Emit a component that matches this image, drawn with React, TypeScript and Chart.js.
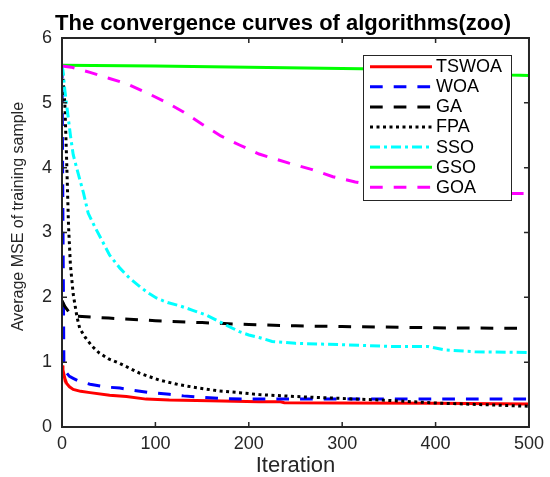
import React, { useEffect, useRef } from "react";
import { Chart, registerables } from "chart.js";

Chart.register(...registerables);

// ---- data ----
const seriesNames = ["TSWOA", "WOA", "GA", "FPA", "SSO", "GSO", "GOA"];
const seriesColors = ["#ff0000", "#0000ff", "#000000", "#000000", "#00ffff", "#00ff00", "#ff00ff"];

const xTicks = [0, 100, 200, 300, 400, 500];
const yTicks = [0, 1, 2, 3, 4, 5, 6];

const tswoaIter = [0, 1, 3, 5, 8, 12, 20, 30, 51, 69, 90, 115, 158, 211, 234, 238, 300, 400, 500];
const tswoaVal = [0.95, 0.88, 0.75, 0.67, 0.62, 0.58, 0.55, 0.53, 0.49, 0.47, 0.43, 0.415, 0.405, 0.39, 0.39, 0.375, 0.37, 0.365, 0.355];

const woaIter = [0, 1, 2, 4, 8, 12, 19, 30, 45, 62, 75, 94, 115, 130, 147, 170, 197, 250, 300, 400, 500];
const woaVal = [5.57, 3.2, 1.0, 0.85, 0.78, 0.75, 0.7, 0.66, 0.62, 0.6, 0.57, 0.53, 0.505, 0.48, 0.46, 0.44, 0.43, 0.43, 0.43, 0.43, 0.43];

const gaIter = [0, 3, 8, 15, 50, 100, 150, 200, 250, 300, 400, 500];
const gaVal = [1.95, 1.86, 1.76, 1.71, 1.68, 1.64, 1.61, 1.58, 1.56, 1.55, 1.53, 1.52];

const fpaIter = [0, 1, 3, 5, 7, 9, 12, 16, 19, 25, 32, 40, 50, 62, 83, 104, 126, 147, 168, 190, 211, 250, 300, 350, 400, 450, 500];
const fpaVal = [5.57, 5.4, 5.0, 4.1, 3.1, 2.5, 2.05, 1.7, 1.52, 1.38, 1.25, 1.14, 1.05, 0.98, 0.83, 0.725, 0.65, 0.6, 0.556, 0.53, 0.5, 0.47, 0.44, 0.41, 0.37, 0.345, 0.32];

const ssoIter = [0, 1, 3, 6, 9, 12, 16, 23, 28, 35, 42, 51, 62, 72, 83, 92, 101, 113, 126, 140, 154, 172, 190, 200, 211, 225, 250, 300, 357, 392, 410, 442, 500];
const ssoVal = [5.57, 5.5, 5.2, 4.85, 4.5, 4.2, 3.98, 3.61, 3.3, 3.09, 2.9, 2.65, 2.45, 2.3, 2.17, 2.07, 1.99, 1.92, 1.87, 1.8, 1.73, 1.6, 1.47, 1.42, 1.38, 1.32, 1.29, 1.27, 1.24, 1.24, 1.19, 1.16, 1.15];

const gsoIter = [0, 100, 200, 300, 400, 450, 480, 500];
const gsoVal = [5.58, 5.57, 5.55, 5.53, 5.51, 5.48, 5.43, 5.42];

const goaIter = [0, 10, 30, 50, 70, 90, 110, 130, 150, 170, 190, 211, 243, 268, 290, 314, 350, 400, 450, 500];
const goaVal = [5.57, 5.55, 5.47, 5.38, 5.29, 5.16, 5.02, 4.86, 4.67, 4.49, 4.35, 4.21, 4.07, 3.97, 3.86, 3.78, 3.68, 3.62, 3.6, 3.6];

const chartTitle = "The convergence curves of algorithms(zoo)";
const xTitle = "Iteration";
const yTitle = "Average MSE of training sample";

// ---- styles ----
const FONT = '"Liberation Sans", Arial, Helvetica, sans-serif';
const dashes: number[][] = [[], [12.7, 11], [12.7, 11], [3, 3.5], [10, 4, 3, 4], [], [12.7, 11]];

const seriesIters = [tswoaIter, woaIter, gaIter, fpaIter, ssoIter, gsoIter, goaIter];
const seriesVals = [tswoaVal, woaVal, gaVal, fpaVal, ssoVal, gsoVal, goaVal];

const framePlugin = {
  id: "frame",
  afterDatasetsDraw(chart: any) {
    const { ctx, chartArea } = chart;
    const { left, right, top, bottom } = chartArea;
    const xs = chart.scales.x;
    const ys = chart.scales.y;
    ctx.save();
    ctx.strokeStyle = "#262626";
    ctx.lineWidth = 2;
    ctx.setLineDash([]);
    ctx.strokeRect(left, top, right - left, bottom - top);
    ctx.beginPath();
    ctx.lineWidth = 1.5;
    const tl = 5;
    xTicks.forEach((v) => {
      const px = xs.getPixelForValue(v);
      ctx.moveTo(px, bottom);
      ctx.lineTo(px, bottom - tl);
      ctx.moveTo(px, top);
      ctx.lineTo(px, top + tl);
    });
    yTicks.forEach((v) => {
      const py = ys.getPixelForValue(v);
      ctx.moveTo(left, py);
      ctx.lineTo(left + tl, py);
      ctx.moveTo(right, py);
      ctx.lineTo(right - tl, py);
    });
    ctx.stroke();
    ctx.restore();
  },
  afterDraw(chart: any) {
    const { ctx } = chart;
    ctx.save();
    // title
    ctx.fillStyle = "#000000";
    ctx.font = `bold 22px ${FONT}`;
    ctx.textAlign = "center";
    ctx.textBaseline = "alphabetic";
    ctx.fillText(chartTitle, 283, 30);
    // y title
    ctx.save();
    ctx.translate(18.5, 216.5);
    ctx.rotate(-Math.PI / 2);
    ctx.font = `16px ${FONT}`;
    ctx.fillStyle = "#262626";
    ctx.textAlign = "center";
    ctx.textBaseline = "middle";
    ctx.fillText(yTitle, 0, 0);
    ctx.restore();
    // legend
    const lx = 363.5, ly = 55.5, lw = 148, lh = 145;
    ctx.fillStyle = "#ffffff";
    ctx.fillRect(lx, ly, lw, lh);
    ctx.strokeStyle = "#262626";
    ctx.lineWidth = 1;
    ctx.setLineDash([]);
    ctx.strokeRect(lx, ly, lw, lh);
    chart.data.datasets.forEach((ds: any, i: number) => {
      const y = 66.7 + i * 20.1;
      ctx.beginPath();
      ctx.strokeStyle = ds.borderColor;
      ctx.lineWidth = 3;
      ctx.setLineDash(ds.borderDash || []);
      ctx.lineDashOffset = 0;
      ctx.moveTo(370, y);
      ctx.lineTo(432, y);
      ctx.stroke();
      ctx.setLineDash([]);
      ctx.fillStyle = "#000000";
      ctx.font = `18px ${FONT}`;
      ctx.textAlign = "left";
      ctx.textBaseline = "middle";
      ctx.fillText(ds.label, 436, y + 0.5);
    });
    ctx.restore();
  },
};

export default function App() {
  const canvasRef = useRef<HTMLCanvasElement | null>(null);

  useEffect(() => {
    if (!canvasRef.current) return;
    const datasets = seriesNames.map((name, i) => ({
      label: name,
      data: seriesIters[i].map((x, k) => ({ x, y: seriesVals[i][k] })),
      borderColor: seriesColors[i],
      backgroundColor: seriesColors[i],
      borderWidth: 3,
      borderDash: dashes[i],
      borderCapStyle: "butt" as const,
      pointRadius: 0,
      tension: 0,
      fill: false,
      order: 10 - i,
    }));
    const chart = new Chart(canvasRef.current, {
      type: "line",
      data: { datasets },
      options: {
        animation: false,
        responsive: false,
        maintainAspectRatio: false,
        devicePixelRatio: 1,
        layout: { padding: { left: 0, top: 38, right: 19, bottom: 0 } },
        plugins: {
          legend: { display: false },
          title: { display: false },
          tooltip: { enabled: false },
        },
        scales: {
          x: {
            type: "linear",
            min: 0,
            max: 500,
            grid: { display: false, drawTicks: false },
            border: { display: false },
            afterBuildTicks: (s: any) => {
              s.ticks = xTicks.map((v) => ({ value: v }));
            },
            ticks: {
              color: "#262626",
              font: { family: FONT, size: 18 },
              padding: 6,
              maxRotation: 0,
              autoSkip: false,
            },
            title: {
              display: true,
              text: xTitle,
              color: "#262626",
              font: { family: FONT, size: 22, lineHeight: 1 },
              padding: { top: 0, bottom: 0 },
            },
            afterFit: (s: any) => {
              s.height = 50;
            },
          },
          y: {
            type: "linear",
            min: 0,
            max: 6,
            grid: { display: false, drawTicks: false },
            border: { display: false },
            afterBuildTicks: (s: any) => {
              s.ticks = yTicks.map((v) => ({ value: v }));
            },
            ticks: {
              color: "#262626",
              font: { family: FONT, size: 18 },
              padding: 10,
              autoSkip: false,
            },
            afterFit: (s: any) => {
              s.width = 62;
            },
          },
        },
      },
      plugins: [framePlugin],
    });
    return () => chart.destroy();
  }, []);

  return (
    <div style={{ position: "absolute", left: 0, top: 0, width: 550, height: 477, background: "#ffffff" }}>
      <canvas ref={canvasRef} width={550} height={477} style={{ display: "block", width: 550, height: 477 }} />
    </div>
  );
}
